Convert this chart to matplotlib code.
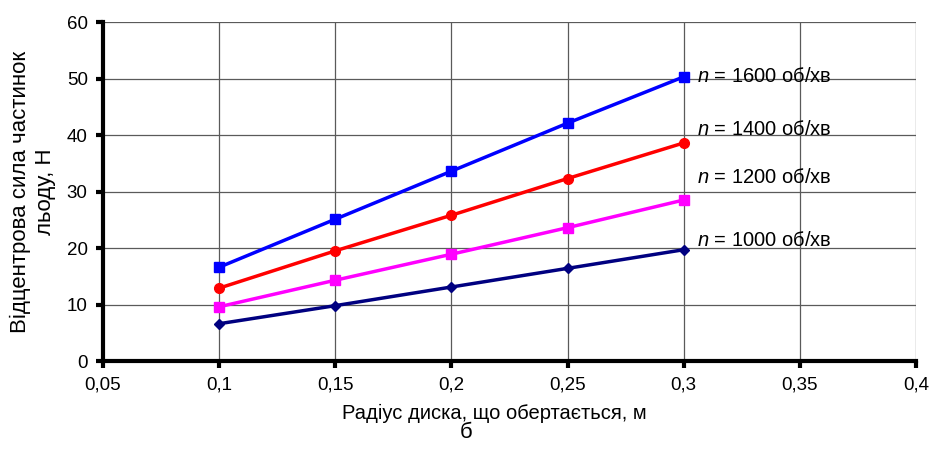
import numpy as np
import matplotlib
matplotlib.use("Agg")
import matplotlib.pyplot as plt

plt.rcParams["font.family"] = ["Liberation Sans", "DejaVu Sans"]
plt.rcParams["mathtext.fontset"] = "custom"
plt.rcParams["mathtext.it"] = "Liberation Sans:italic"
plt.rcParams["mathtext.rm"] = "Liberation Sans"

#######################################################
# DATA

radius = [0.1, 0.15, 0.2, 0.25, 0.3]

force_1600 = [16.6, 25.1, 33.6, 42.1, 50.3]
force_1400 = [12.9, 19.5, 25.8, 32.3, 38.6]
force_1200 = [9.6, 14.3, 18.9, 23.6, 28.5]
force_1000 = [6.6, 9.8, 13.1, 16.4, 19.7]

series = [
    ("1600", force_1600, "#0000ff", "s", 7, 0),
    ("1400", force_1400, "#ff0000", "o", 7, 13),
    ("1200", force_1200, "#ff00ff", "s", 7, 22),
    ("1000", force_1000, "#000080", "D", 5, 9),
]

xticks = [0.05, 0.1, 0.15, 0.2, 0.25, 0.3, 0.35, 0.4]
yticks = [0, 10, 20, 30, 40, 50, 60]

#######################################################
# FIGURE

fig = plt.figure(figsize=(9.32, 4.54), dpi=100)
ax = fig.add_axes([0.1105, 0.2048, 0.8723, 0.7467])

for name, vals, color, marker, ms, dy in series:
    ax.plot(
        radius,
        vals,
        color=color,
        marker=marker,
        markersize=ms,
        linewidth=2.5,
        zorder=3
    )
    ax.annotate(
        "$n$ = " + name + " об/хв",
        xy=(radius[-1], vals[-1]),
        xytext=(13, dy),
        textcoords="offset pixels",
        fontsize=14.5,
        va="center",
        ha="left",
        zorder=4
    )

ax.set_xlim(0.05, 0.4)
ax.set_ylim(0, 60)

ax.set_xticks(xticks)
ax.set_xticklabels([f"{t:g}".replace(".", ",") for t in xticks])
ax.set_yticks(yticks)

ax.grid(True, color="#5a5a5a", linewidth=0.9)
ax.set_axisbelow(True)

for side in ["top", "right"]:
    ax.spines[side].set_visible(False)
for side in ["left", "bottom"]:
    ax.spines[side].set_linewidth(3)
    ax.spines[side].set_zorder(5)

ax.tick_params(
    axis="both",
    direction="out",
    length=5,
    width=3,
    labelsize=13.5,
    pad=6
)

ax.set_xlabel(
    "Радіус диска, що обертається, м",
    fontsize=14.5,
    labelpad=8
)
# label sits a bit left of the axes centre
ax.xaxis.label.set_x(0.481)

ax.set_ylabel(
    "Відцентрова сила частинок\nльоду, Н",
    fontsize=16,
    labelpad=8
)

fig.text(0.5, 0.048, "б", fontsize=16, ha="center", va="center")

plt.savefig("out.png", dpi=100)
plt.close()
